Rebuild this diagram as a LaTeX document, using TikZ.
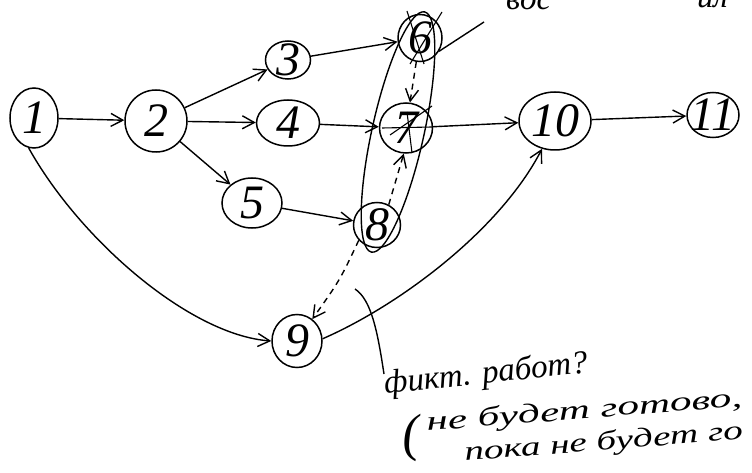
\documentclass[tikz,border=0pt]{standalone}
\usepackage{fontspec}
\setmainfont{Liberation Serif}
\newfontfamily\hand{Liberation Serif Italic}
\usetikzlibrary{shapes.geometric,arrows.meta}
\newcommand\dg[1]{\makebox[0pt]{\raisebox{-.33em}[0pt][0pt]{#1}}}
\tikzset{
  ev/.style={draw, ellipse, line width=1.5pt, inner sep=0pt, font=\fontsize{48}{48}\selectfont\hand},
  arr/.style={-{Straight Barb[length=12pt,width=13pt]}, line width=1.4pt},
  dsh/.style={arr, dash pattern=on 6pt off 5pt},
  pen/.style={line width=1.4pt},
  scrib/.style={line width=1.1pt},
  hw/.style={font=\fontsize{33}{33}\selectfont\hand, inner sep=0pt},
  hws/.style={font=\fontsize{27}{27}\selectfont\hand, inner sep=0pt}
}
\begin{document}
\begin{tikzpicture}[x=1pt,y=-1pt]
\useasboundingbox (0,0) rectangle (752,473);
\clip (0,0) rectangle (752,473);
% nodes
\node[ev, minimum width=48pt, minimum height=60pt] (n1) at (34,118) {\dg{1}};
\node[ev, minimum width=62pt, minimum height=62pt] (n2) at (156,121) {\dg{2}};
\node[ev, minimum width=45pt, minimum height=38pt] (n3) at (288,60) {\dg{3}};
\node[ev, minimum width=63pt, minimum height=46pt] (n4) at (288,123) {\dg{4}};
\node[ev, minimum width=60pt, minimum height=50pt] (n5) at (252,203) {\dg{5}};
\node[ev, minimum width=44pt, minimum height=47pt] (n6) at (420,38) {\dg{6}};
\node[ev, minimum width=53pt, minimum height=50pt] (n7) at (406,128) {\dg{7}};
\node[ev, minimum width=47pt, minimum height=45pt] (n8) at (377,225) {\dg{8}};
\node[ev, minimum width=50pt, minimum height=53pt] (n9) at (297,341) {\dg{9}};
\node[ev, minimum width=72pt, minimum height=58pt] (n10) at (555,121) {\dg{10}};
\node[ev, minimum width=52pt, minimum height=45pt] (n11) at (713,115) {\dg{11}};
% enclosing ellipse around 6,7,8
\draw[pen, rotate around={77.5:(398,132)}] (398,132) ellipse [x radius=123pt, y radius=26pt];
% scribbles over 6 and 7
\draw[scrib] (407,11) -- (424,64);
\draw[scrib] (442,12) -- (410,64);
\draw[scrib] (390,135) -- (432,106);
\draw[scrib] (407,112) -- (412,153);
\draw[scrib] (382,128) -- (432,127);
% arrows
\draw[arr] (n1) -- (n2);
\draw[arr] (n2) -- (n3);
\draw[arr] (n2) -- (n4);
\draw[arr] (n2) -- (n5);
\draw[arr] (n3) -- (n6);
\draw[arr] (n4) -- (n7);
\draw[arr] (n5) -- (n8);
\draw[arr] (n7) -- (n10);
\draw[arr] (n10) -- (n11);
\draw[dsh] (n6) -- (n7);
\draw[dsh] (n8.60) -- (n7.-95);
\draw[dsh] (n8.220) .. controls (340,280) .. (n9.55);
\draw[arr] (n1.-100) .. controls (80,240) and (190,335) .. (n9.180);
\draw[arr] (n9.5) .. controls (400,305) and (500,230) .. (n10.-115);
% annotations
\coordinate (tn) at (484,22);
\draw[pen] (n6.-35) -- (tn);
\coordinate (c1) at (355,289);
\coordinate (c2) at (384,374);
\draw[pen] (c1) .. controls (372,300) and (378,335) .. (c2);
\node[hw, anchor=base west] (t0a) at (506,10) {вос};
\node[hw, anchor=base west] (t0b) at (697,8) {ил};
\node[hw, anchor=base west, rotate=6] (t1) at (385,394) {фикт. работ?};
\node[font=\fontsize{52}{52}\selectfont\hand, inner sep=0pt, anchor=base west, rotate=4] (t2a) at (403,452) {(};
\node[hws, anchor=base west, rotate=4.5] (t2) at (427,431) {\scalebox{1.6}[1]{не будет готово,}};
\node[hws, anchor=base west, rotate=4.5] (t3) at (465,461) {\scalebox{1.45}[1]{пока не будет го}};
\end{tikzpicture}
\end{document}
